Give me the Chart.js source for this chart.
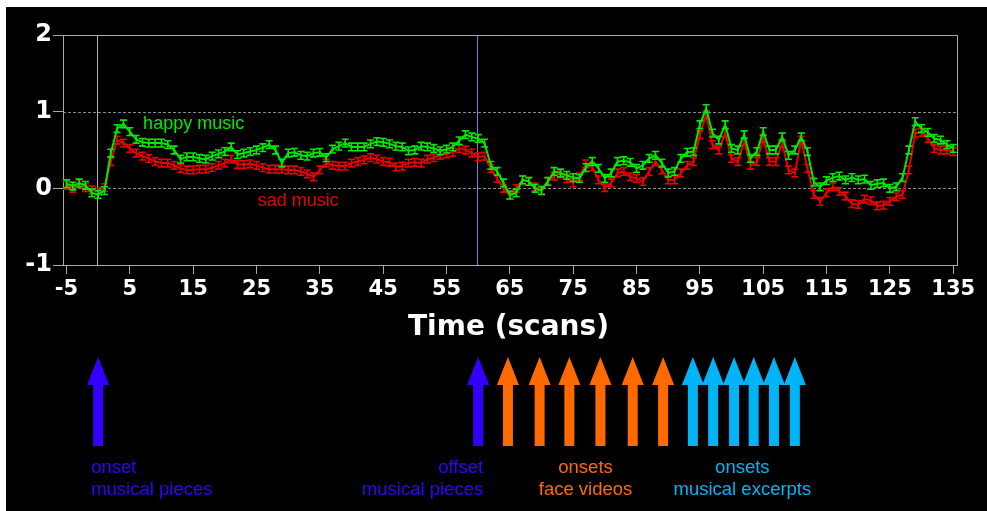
<!DOCTYPE html>
<html>
<head>
<meta charset="utf-8">
<script src="https://cdn.jsdelivr.net/npm/chart.js@4"></script>
<style>
  html, body { margin: 0; padding: 0; background: #fff; }
  #wrap { position: absolute; left: 0; top: 0; width: 987px; height: 511px; }
</style>
</head>
<body>
<div id="wrap"><canvas id="c" width="987" height="511"></canvas></div>
<script>
// Time axis (scans)
const scans = [
  -5, -4, -3, -2, -1, 0, 1, 2, 3, 4, 5, 6, 7, 8, 9, 10, 11, 12, 13, 14,
  15, 16, 17, 18, 19, 20, 21, 22, 23, 24, 25, 26, 27, 28, 29, 30, 31, 32, 33, 34,
  35, 36, 37, 38, 39, 40, 41, 42, 43, 44, 45, 46, 47, 48, 49, 50, 51, 52, 53, 54,
  55, 56, 57, 58, 59, 60, 61, 62, 63, 64, 65, 66, 67, 68, 69, 70, 71, 72, 73, 74,
  75, 76, 77, 78, 79, 80, 81, 82, 83, 84, 85, 86, 87, 88, 89, 90, 91, 92, 93, 94,
  95, 96, 97, 98, 99, 100, 101, 102, 103, 104, 105, 106, 107, 108, 109, 110, 111, 112, 113, 114,
  115, 116, 117, 118, 119, 120, 121, 122, 123, 124, 125, 126, 127, 128, 129, 130, 131, 132, 133, 134,
  135
];

// Mean signal, happy music condition
const happyMusic = [
  0.06, 0.03, 0.07, 0.04, -0.06, -0.08, -0.03, 0.46, 0.78, 0.84, 0.74, 0.64, 0.60, 0.59, 0.59, 0.59, 0.57, 0.50, 0.38, 0.41,
  0.41, 0.39, 0.38, 0.42, 0.45, 0.48, 0.54, 0.44, 0.46, 0.48, 0.50, 0.53, 0.57, 0.50, 0.33, 0.46, 0.47, 0.43, 0.42, 0.46,
  0.47, 0.40, 0.51, 0.55, 0.59, 0.54, 0.54, 0.54, 0.58, 0.61, 0.60, 0.58, 0.55, 0.54, 0.49, 0.50, 0.55, 0.54, 0.52, 0.49,
  0.51, 0.54, 0.62, 0.70, 0.67, 0.65, 0.59, 0.30, 0.22, 0.07, -0.09, -0.06, 0.11, 0.09, 0.00, -0.03, 0.09, 0.22, 0.20, 0.17,
  0.14, 0.13, 0.27, 0.35, 0.26, 0.13, 0.20, 0.35, 0.36, 0.34, 0.26, 0.30, 0.39, 0.43, 0.33, 0.20, 0.22, 0.39, 0.47, 0.48,
  0.83, 1.04, 0.72, 0.63, 0.83, 0.52, 0.50, 0.70, 0.39, 0.48, 0.74, 0.50, 0.50, 0.67, 0.43, 0.50, 0.67, 0.48, 0.08, 0.02,
  0.10, 0.14, 0.16, 0.11, 0.14, 0.11, 0.12, 0.04, 0.06, 0.07, 0.00, 0.02, 0.14, 0.50, 0.87, 0.78, 0.73, 0.65, 0.63, 0.57,
  0.52
];

// Mean signal, sad music condition
const sadMusic = [
  0.04, 0.00, 0.06, 0.01, -0.02, -0.04, 0.01, 0.35, 0.63, 0.59, 0.52, 0.46, 0.42, 0.39, 0.35, 0.33, 0.33, 0.30, 0.26, 0.24,
  0.24, 0.25, 0.25, 0.27, 0.30, 0.33, 0.38, 0.31, 0.31, 0.32, 0.30, 0.27, 0.25, 0.25, 0.25, 0.24, 0.24, 0.22, 0.19, 0.15,
  0.24, 0.33, 0.30, 0.29, 0.29, 0.33, 0.35, 0.37, 0.40, 0.38, 0.35, 0.34, 0.28, 0.29, 0.33, 0.34, 0.33, 0.38, 0.40, 0.43,
  0.45, 0.47, 0.52, 0.50, 0.46, 0.41, 0.42, 0.26, 0.13, 0.00, -0.09, 0.00, 0.11, 0.09, 0.02, -0.02, 0.09, 0.16, 0.19, 0.13,
  0.07, 0.15, 0.32, 0.28, 0.11, 0.01, 0.07, 0.20, 0.22, 0.15, 0.13, 0.09, 0.22, 0.35, 0.24, 0.11, 0.11, 0.20, 0.30, 0.35,
  0.70, 0.96, 0.57, 0.50, 0.72, 0.39, 0.35, 0.61, 0.30, 0.35, 0.65, 0.35, 0.35, 0.59, 0.24, 0.20, 0.63, 0.26, -0.08, -0.17,
  -0.06, 0.02, -0.04, -0.10, -0.20, -0.21, -0.14, -0.16, -0.23, -0.22, -0.17, -0.11, -0.08, 0.24, 0.72, 0.73, 0.65, 0.52, 0.50, 0.50,
  0.48
];

// Standard error of the mean for each condition
const happySE = 0.05;
const sadSE = 0.05;

// Tick labels
const xTicks = [-5, 5, 15, 25, 35, 45, 55, 65, 75, 85, 95, 105, 115, 125, 135];
const yTicks = [-1, 0, 1, 2];
const dashedLevels = [0, 1];

// Event timing (scans)
const musicOnset = 0;
const musicOffset = 60;
const faceVideoOnsets = [64.7, 69.7, 74.4, 79.3, 84.4, 89.2];
const excerptOnsets = [93.9, 97.1, 100.4, 103.5, 106.7, 110.0];

const GREEN = '#00ea00';
const RED = '#ea0000';
const BLUE = '#3300ff';
const ORANGE = '#ff6a00';
const CYAN = '#00b4f5';
const AXIS = '#a8a8a8';

const toPoints = (vals) => vals.map((v, i) => ({ x: scans[i], y: v }));

const backdrop = {
  id: 'backdrop',
  beforeDraw(chart) {
    const ctx = chart.ctx;
    ctx.save();
    ctx.fillStyle = '#fff';
    ctx.fillRect(0, 0, chart.width, chart.height);
    ctx.fillStyle = '#000';
    ctx.fillRect(6, 7, chart.width - 6, chart.height - 7);
    ctx.restore();
  },
  beforeDatasetsDraw(chart) {
    const { ctx, chartArea: a, scales: { x, y } } = chart;
    ctx.save();
    ctx.lineWidth = 1;
    // dotted reference levels
    ctx.strokeStyle = '#8a8a8a';
    ctx.setLineDash([3, 2]);
    dashedLevels.forEach(v => {
      const py = Math.round(y.getPixelForValue(v)) + 0.5;
      ctx.beginPath();
      ctx.moveTo(a.left, py);
      ctx.lineTo(a.right, py);
      ctx.stroke();
    });
    ctx.setLineDash([]);
    // top and right frame
    ctx.strokeStyle = AXIS;
    ctx.beginPath();
    ctx.moveTo(a.left, Math.round(a.top) + 0.5);
    ctx.lineTo(Math.round(a.right) + 0.5, Math.round(a.top) + 0.5);
    ctx.lineTo(Math.round(a.right) + 0.5, a.bottom);
    ctx.stroke();
    // music onset / offset markers
    const xOn = Math.round(x.getPixelForValue(musicOnset)) - 0.5;
    ctx.strokeStyle = '#b4b4b4';
    ctx.beginPath(); ctx.moveTo(xOn, a.top); ctx.lineTo(xOn, a.bottom); ctx.stroke();
    const xOff = Math.round(x.getPixelForValue(musicOffset)) - 0.5;
    ctx.strokeStyle = '#7c7ce6';
    ctx.beginPath(); ctx.moveTo(xOff, a.top); ctx.lineTo(xOff, a.bottom); ctx.stroke();
    ctx.restore();
  }
};

const errorBars = {
  id: 'errorBars',
  afterDatasetDraw(chart, args) {
    const ds = chart.data.datasets[args.index];
    const meta = args.meta;
    const y = chart.scales.y;
    const ctx = chart.ctx;
    ctx.save();
    ctx.strokeStyle = ds.borderColor;
    ctx.lineWidth = 1.6;
    meta.data.forEach((pt, i) => {
      const v = ds.data[i].y;
      const top = y.getPixelForValue(v + ds.se);
      const bot = y.getPixelForValue(v - ds.se);
      ctx.beginPath();
      ctx.moveTo(pt.x, top); ctx.lineTo(pt.x, bot);
      ctx.moveTo(pt.x - 3.5, top); ctx.lineTo(pt.x + 3.5, top);
      ctx.moveTo(pt.x - 3.5, bot); ctx.lineTo(pt.x + 3.5, bot);
      ctx.stroke();
    });
    ctx.restore();
  }
};

function drawArrow(ctx, cx, color) {
  const top = 357, neck = 385, bottom = 446;
  ctx.fillStyle = color;
  ctx.beginPath();
  ctx.moveTo(cx, top);
  ctx.lineTo(cx + 11, neck);
  ctx.lineTo(cx + 5, neck);
  ctx.lineTo(cx + 5, bottom);
  ctx.lineTo(cx - 5, bottom);
  ctx.lineTo(cx - 5, neck);
  ctx.lineTo(cx - 11, neck);
  ctx.closePath();
  ctx.fill();
}

const annotations = {
  id: 'annotations',
  afterDraw(chart) {
    const { ctx, chartArea: a, scales: { x, y } } = chart;
    ctx.save();
    // series labels
    ctx.font = '18px "Liberation Sans", Arial, sans-serif';
    ctx.textAlign = 'left';
    ctx.textBaseline = 'alphabetic';
    ctx.fillStyle = GREEN;
    ctx.fillText('happy music', x.getPixelForValue(7.1), y.getPixelForValue(0.77));
    ctx.fillStyle = RED;
    ctx.fillText('sad music', x.getPixelForValue(25.2), y.getPixelForValue(-0.23));

    // axis title
    ctx.font = 'bold 28px "DejaVu Sans", Verdana, sans-serif';
    ctx.fillStyle = '#fff';
    ctx.textAlign = 'center';
    ctx.fillText('Time (scans)', (a.left + a.right) / 2 - 1.5, 335);

    // event arrows
    const xOn = x.getPixelForValue(musicOnset);
    const xOff = x.getPixelForValue(musicOffset);
    drawArrow(ctx, xOn, BLUE);
    drawArrow(ctx, xOff, BLUE);
    const facePx = faceVideoOnsets.map(v => x.getPixelForValue(v));
    const excPx = excerptOnsets.map(v => x.getPixelForValue(v));
    facePx.forEach(p => drawArrow(ctx, p, ORANGE));
    excPx.forEach(p => drawArrow(ctx, p, CYAN));

    // event labels
    ctx.font = '18.5px "Liberation Sans", Arial, sans-serif';
    ctx.fillStyle = BLUE;
    ctx.textAlign = 'left';
    ctx.fillText('onset', xOn - 7, 473);
    ctx.fillText('musical pieces', xOn - 7, 495);
    ctx.textAlign = 'right';
    ctx.fillText('offset', xOff + 5, 473);
    ctx.fillText('musical pieces', xOff + 5, 495);
    ctx.textAlign = 'center';
    const faceMid = (facePx[0] + facePx[facePx.length - 1]) / 2;
    ctx.fillStyle = ORANGE;
    ctx.fillText('onsets', faceMid, 473);
    ctx.fillText('face videos', faceMid, 495);
    const excMid = (excPx[0] + excPx[excPx.length - 1]) / 2 - 1.5;
    ctx.fillStyle = CYAN;
    ctx.fillText('onsets', excMid, 473);
    ctx.fillText('musical excerpts', excMid, 495);
    ctx.restore();
  }
};

const tickFont = { family: '"DejaVu Sans", Verdana, sans-serif', weight: 'bold' };

new Chart(document.getElementById('c'), {
  type: 'line',
  data: {
    datasets: [
      { label: 'happy music', data: toPoints(happyMusic), se: happySE, borderColor: GREEN,
        borderWidth: 2, pointRadius: 0, tension: 0, order: 0 },
      { label: 'sad music', data: toPoints(sadMusic), se: sadSE, borderColor: RED,
        borderWidth: 2, pointRadius: 0, tension: 0, order: 1 }
    ]
  },
  options: {
    responsive: false,
    animation: false,
    devicePixelRatio: 1,
    layout: { padding: { top: 35, right: 30, left: 0, bottom: 0 } },
    plugins: { legend: { display: false }, tooltip: { enabled: false } },
    scales: {
      x: {
        type: 'linear', min: -5.55, max: 135.6,
        afterBuildTicks: s => { s.ticks = xTicks.map(v => ({ value: v })); },
        afterFit: s => { s.height = 246; },
        grid: { drawOnChartArea: false, drawTicks: true, tickLength: 9, color: AXIS, lineWidth: 1 },
        border: { display: true, color: AXIS, width: 1 },
        ticks: { color: '#fff', font: { ...tickFont, size: 21 }, padding: 3, maxRotation: 0, autoSkip: false }
      },
      y: {
        min: -1, max: 2,
        afterBuildTicks: s => { s.ticks = yTicks.map(v => ({ value: v })); },
        afterFit: s => { s.width = 63; },
        grid: { drawOnChartArea: false, drawTicks: true, tickLength: 10, color: AXIS, lineWidth: 1 },
        border: { display: true, color: AXIS, width: 1 },
        ticks: { color: '#fff', font: { ...tickFont, size: 24 }, padding: 1 }
      }
    }
  },
  plugins: [backdrop, errorBars, annotations]
});
</script>
</body>
</html>
